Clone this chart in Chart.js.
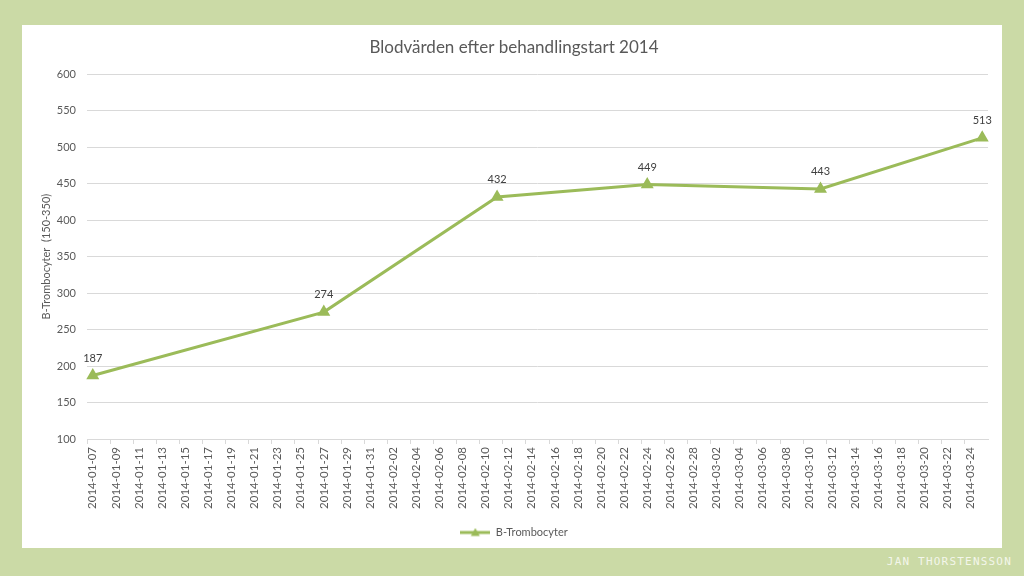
<!DOCTYPE html>
<html>
<head>
<meta charset="utf-8">
<script src="https://cdn.jsdelivr.net/npm/chart.js@4"></script>
<style>
  html, body { margin: 0; padding: 0; }
  body { width: 1024px; height: 576px; background: #cbdaa6; position: relative; overflow: hidden; }
  #panel { position: absolute; left: 22px; top: 25px; width: 980px; height: 523px; background: #fff; }
  #sign { position: absolute; right: 12px; top: 555px; font-family: "DejaVu Sans Mono", monospace; font-size: 11px; letter-spacing: 1.2px; color: #f3f6ea; }
</style>
</head>
<body>
<div id="panel"><canvas id="myChart" width="980" height="523"></canvas></div>
<div id="sign">JAN THORSTENSSON</div>
<script>
const chartTitle = 'Blodvärden efter behandlingstart 2014';
const seriesName = 'B-Trombocyter';
const yTitle = 'B-Trombocyter  (150-350)';
const axisStart = '2014-01-07';
const axisEnd = '2014-03-25';
const measureDates = ['2014-01-07', '2014-01-27', '2014-02-11', '2014-02-24', '2014-03-11', '2014-03-25'];
const trombocyter = [187, 274, 432, 449, 443, 513];

const green = '#9bbb59';
const textGrey = '#595959';
const font = 'Lato, "Open Sans", sans-serif';

// one category per day, label every second day like the Excel date axis
const dayLabels = [];
for (let t = Date.parse(axisStart); t <= Date.parse(axisEnd); t += 86400000) {
    dayLabels.push(new Date(t).toISOString().slice(0, 10));
}

const legendIcon = document.createElement('canvas');
legendIcon.width = 30;
legendIcon.height = 10;
(function () {
    const c = legendIcon.getContext('2d');
    c.strokeStyle = green;
    c.lineWidth = 3;
    c.beginPath();
    c.moveTo(0, 5);
    c.lineTo(30, 5);
    c.stroke();
    c.fillStyle = green;
    c.beginPath();
    c.moveTo(15, 0.5);
    c.lineTo(19.5, 8.5);
    c.lineTo(10.5, 8.5);
    c.closePath();
    c.fill();
})();

const valueLabels = {
    id: 'valueLabels',
    afterDatasetsDraw(chart) {
        const ctx = chart.ctx;
        const meta = chart.getDatasetMeta(0);
        ctx.save();
        ctx.font = '11px ' + font;
        ctx.fillStyle = '#404040';
        ctx.textAlign = 'center';
        ctx.textBaseline = 'bottom';
        meta.data.forEach((pt, i) => {
            ctx.fillText(String(trombocyter[i]), pt.x, pt.y - 12);
        });
        ctx.restore();
    }
};

const ctx = document.getElementById('myChart').getContext('2d');
new Chart(ctx, {
    type: 'line',
    data: {
        labels: dayLabels,
        datasets: [{
            label: seriesName,
            data: measureDates.map((d, i) => ({ x: d, y: trombocyter[i] })),
            borderColor: green,
            backgroundColor: green,
            borderWidth: 3,
            pointStyle: 'triangle',
            pointRadius: 4.5,
            pointBackgroundColor: green,
            pointBorderColor: green,
            tension: 0
        }]
    },
    options: {
        responsive: false,
        animation: false,
        layout: { padding: { left: 18, right: 14, top: 8, bottom: 0 } },
        plugins: {
            title: {
                display: true,
                text: chartTitle,
                color: textGrey,
                font: { family: font, size: 17, weight: 'normal' },
                padding: { top: 4, bottom: 17 }
            },
            legend: {
                position: 'bottom',
                labels: {
                    usePointStyle: true,
                    pointStyle: legendIcon,
                    pointStyleWidth: 30,
                    color: textGrey,
                    font: { family: font, size: 11 },
                    padding: 6
                }
            },
            tooltip: { enabled: false }
        },
        scales: {
            x: {
                type: 'category',
                offset: true,
                grid: {
                    offset: true,
                    drawOnChartArea: false,
                    tickLength: 5,
                    tickColor: (c) => (c.index % 2 === 0 ? '#d9d9d9' : 'rgba(0,0,0,0)')
                },
                border: { color: '#d9d9d9' },
                ticks: {
                    autoSkip: false,
                    maxRotation: 90,
                    minRotation: 90,
                    color: textGrey,
                    font: { family: font, size: 11.5 },
                    padding: 3,
                    callback: function (v, i) { return i % 2 === 0 ? this.getLabelForValue(v) : ''; }
                },
                afterFit: (s) => { s.height = 82; }
            },
            y: {
                min: 100,
                max: 600,
                ticks: { stepSize: 50, color: textGrey, font: { family: font, size: 11 }, padding: 11 },
                grid: { color: '#d9d9d9', drawTicks: false },
                border: { display: false },
                title: {
                    display: true,
                    text: yTitle,
                    color: textGrey,
                    font: { family: font, size: 11 },
                    padding: { top: 0, bottom: 6 }
                },
                afterFit: (s) => { s.width = 47; }
            }
        }
    },
    plugins: [valueLabels]
});
</script>
</body>
</html>
